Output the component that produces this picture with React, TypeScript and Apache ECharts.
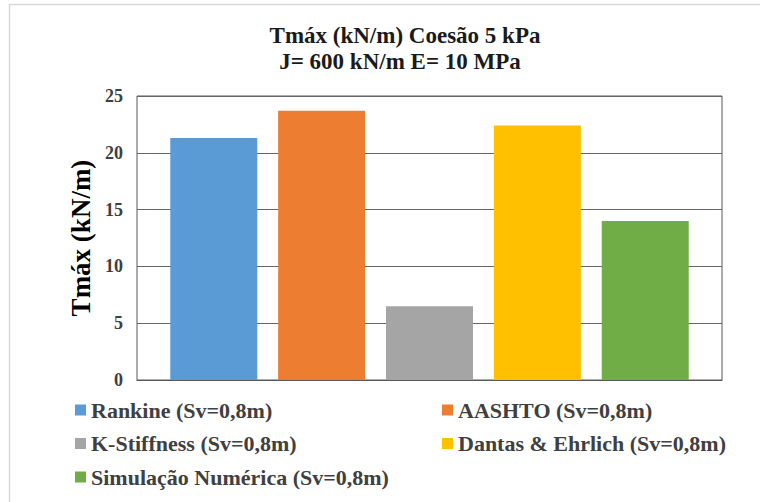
import React, { useEffect, useRef } from "react";
import * as echarts from "echarts";

const category = ["Tmáx"];
const seriesNames = [
  "Rankine (Sv=0,8m)",
  "AASHTO (Sv=0,8m)",
  "K-Stiffness (Sv=0,8m)",
  "Dantas & Ehrlich (Sv=0,8m)",
  "Simulação Numérica (Sv=0,8m)",
];
const values = [21.3, 23.7, 6.5, 22.4, 14.0];
const colors = ["#5B9BD5", "#ED7D31", "#A5A5A5", "#FFC000", "#70AD47"];
const yTicks = { min: 0, max: 25, interval: 5 };
const titleLines = ["Tmáx (kN/m) Coesão 5 kPa", "J= 600 kN/m E= 10 MPa"];

const FONT = "Liberation Serif";

export default function App() {
  const ref = useRef<HTMLDivElement>(null);
  useEffect(() => {
    if (!ref.current) return;
    const chart = echarts.init(ref.current, undefined, { renderer: "svg" });
    const series = seriesNames.map((name, i) => ({
      name,
      type: "bar",
      barWidth: "14.87%",
      barGap: "24%",
      itemStyle: { color: colors[i] },
      data: [values[i]],
    }));
    const legendText = { fontFamily: FONT, fontWeight: "bold", fontSize: 22, lineHeight: 22, color: "#404040" };
    const titleText = { fontFamily: FONT, fontWeight: "bold", fontSize: 23, color: "#1a1a1a" };
    chart.setOption({
      animation: false,
      backgroundColor: "#fff",
      textStyle: { fontFamily: FONT },
      title: [
        { text: titleLines[0], left: 400, textAlign: "center", top: 19, textStyle: titleText },
        { text: titleLines[1], left: 395, textAlign: "center", top: 45, textStyle: titleText },
      ],
      grid: { left: 137, right: 38, top: 96, bottom: 122, show: true, borderColor: "#595959", borderWidth: 1 },
      xAxis: {
        type: "category",
        data: category,
        axisLabel: { show: false },
        axisTick: { show: false },
        axisLine: { show: true, lineStyle: { color: "#595959" } },
      },
      yAxis: {
        type: "value",
        min: yTicks.min,
        max: yTicks.max,
        interval: yTicks.interval,
        name: "Tmáx (kN/m)",
        nameLocation: "middle",
        nameGap: 40,
        nameTextStyle: { fontFamily: FONT, fontWeight: "bold", fontSize: 27, color: "#000" },
        axisLabel: { fontFamily: FONT, fontWeight: "bold", fontSize: 18, color: "#404040", margin: 14 },
        axisLine: { show: false },
        axisTick: { show: false },
        splitLine: { lineStyle: { color: "#666", width: 1 } },
      },
      legend: [
        {
          orient: "vertical",
          left: 70,
          top: 394,
          itemWidth: 11,
          itemHeight: 11,
          itemGap: 11.5,
          icon: "rect",
          textStyle: legendText,
          data: [seriesNames[0], seriesNames[2], seriesNames[4]],
        },
        {
          orient: "vertical",
          left: 437,
          top: 394,
          itemWidth: 11,
          itemHeight: 11,
          itemGap: 11.5,
          icon: "rect",
          textStyle: legendText,
          data: [seriesNames[1], seriesNames[3]],
        },
      ],
      graphic: [
        {
          type: "rect",
          shape: { x: 9.5, y: 4.5, width: 800, height: 600 },
          style: { fill: "none", stroke: "#d9d9d9", lineWidth: 1.5 },
          silent: true,
        },
      ],
      series,
    });
    return () => chart.dispose();
  }, []);
  return <div ref={ref} style={{ position: "absolute", left: 0, top: 0, width: 760, height: 502 }} />;
}
